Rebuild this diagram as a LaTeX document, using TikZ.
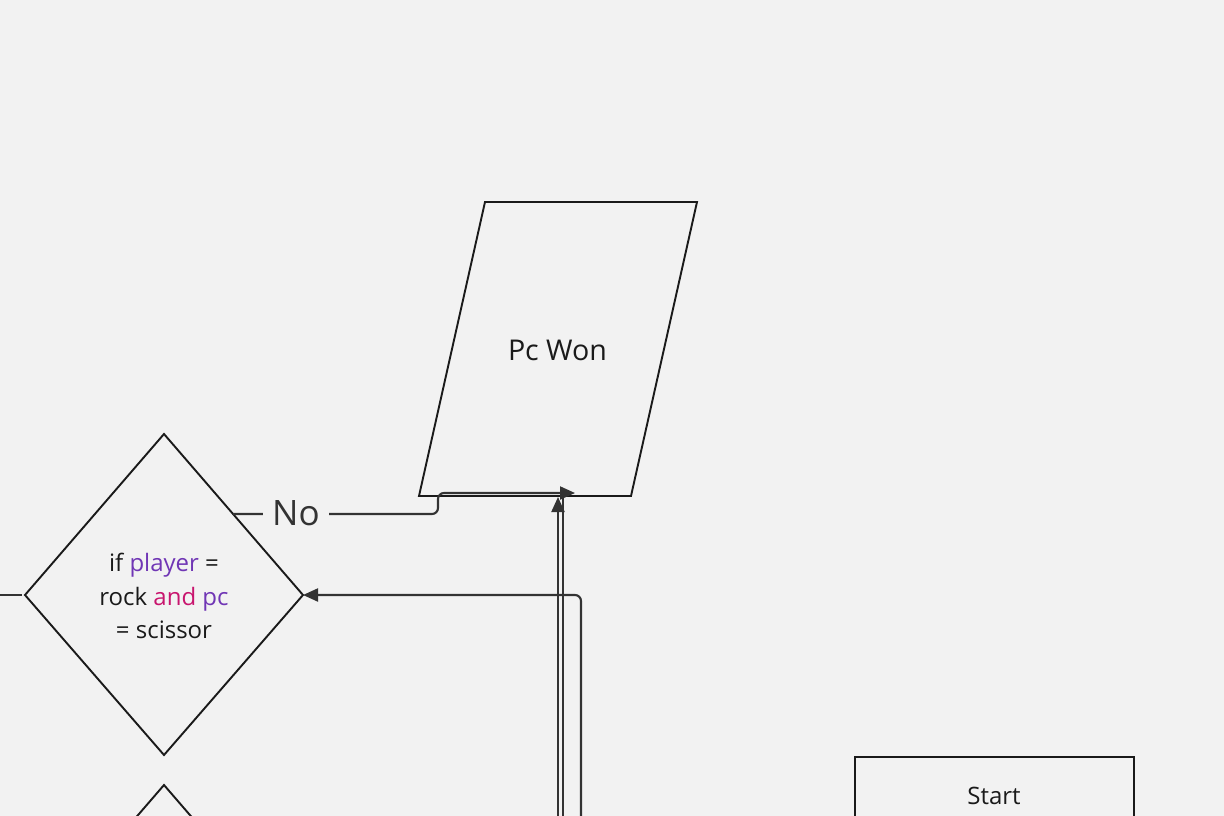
\documentclass[tikz,border=0pt]{standalone}
\usepackage{fontspec}
\setmainfont{Open Sans}
\usetikzlibrary{arrows.meta}
\definecolor{bg}{HTML}{F2F2F2}
\definecolor{shapeln}{HTML}{1A1A1A}
\definecolor{conn}{HTML}{333333}
\definecolor{kwpurple}{HTML}{7036B5}
\definecolor{kwpink}{HTML}{C8156E}
\tikzset{
  shapeline/.style={draw=shapeln, line width=1.9pt, line join=miter},
  connector/.style={draw=conn, line width=2.1pt, rounded corners=6pt},
  tip/.style={-{Triangle[length=15pt,width=13pt]}},
  txt/.style={text=shapeln, align=center, inner sep=0pt},
  lbl/.style={fill=bg, text=conn, font=\fontsize{35}{40}\selectfont, inner sep=0pt, inner xsep=9pt}
}
\begin{document}
\begin{tikzpicture}[x=1pt,y=-1pt]
\fill[bg] (0,0) rectangle (1224,816);
\useasboundingbox (0,0) rectangle (1224,816);
\begin{scope}
\clip (0,0) rectangle (1224,816);
% parallelogram
\draw[shapeline] (485,202) -- (697,202) -- (631,496) -- (419,496) -- cycle;
\node[txt, font=\fontsize{28.6}{34}\selectfont] (pcwon) at (557.5,350) {Pc Won};
% diamond 1
\draw[shapeline] (164,434) -- (303,595) -- (164,755) -- (25,595) -- cycle;
\coordinate (d1west) at (25,595);
\coordinate (d1east) at (303,595);
\coordinate (d1edge) at (233,514);
\node[txt, font=\fontsize{24}{33.5}\selectfont] (cond1) at (164,596)
  {if \textcolor{kwpurple}{player} =\\ rock \textcolor{kwpink}{and} \textcolor{kwpurple}{pc}\\ = scissor};
% diamond 2
\draw[shapeline] (164,785) -- (303,946) -- (164,1107) -- (25,946) -- cycle;
% start box
\draw[shapeline] (855,757) rectangle (1134,860);
\node[txt, font=\fontsize{24}{28}\selectfont] (start) at (994,796) {Start};
% connectors
\coordinate (leftin) at (0,595);
\draw[connector] (leftin) -- (22,595);
\coordinate (pcwonA) at (575,493);
\coordinate (pcwonB) at (558,497);
\coordinate (pcwonC) at (563,495);
\draw[connector, tip] (d1edge) -- (438,514) -- (438,493) -- (pcwonA);
\node[lbl] (no) at (296,513) {No};
\coordinate (b1) at (558,830);
\coordinate (b2) at (563,830);
\coordinate (b3) at (581,830);
\draw[connector, tip] (b1) -- (pcwonB);
\draw[connector] (b2) -- (pcwonC);
\draw[connector, tip] (b3) -- (581,595) -- (d1east);
\end{scope}
\end{tikzpicture}
\end{document}
